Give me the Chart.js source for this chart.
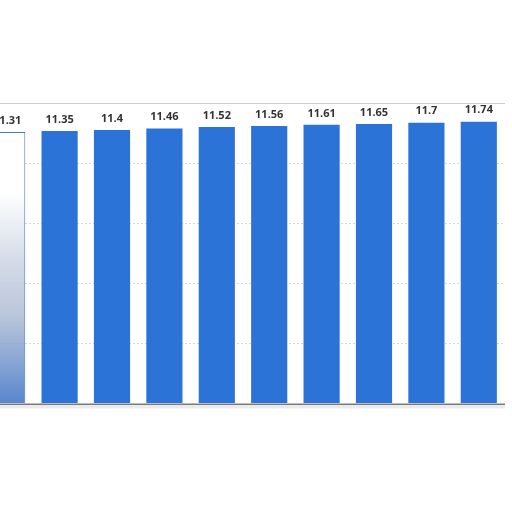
<!DOCTYPE html>
<html>
<head>
<meta charset="utf-8">
<script src="https://cdn.jsdelivr.net/npm/chart.js@4/dist/chart.umd.min.js"></script>
<style>
  html, body { margin: 0; padding: 0; background: #ffffff; overflow: hidden; width: 512px; height: 512px; }
  #wrap { position: absolute; left: -18.6px; top: 100px; width: 524px; height: 310px; }
</style>
</head>
<body>
<div id="wrap"><canvas id="barChart" width="524" height="310"></canvas></div>
<script>
const years = ["2020", "2021", "2022", "2023", "2024", "2025", "2026", "2027", "2028", "2029"];
const values = [11.31, 11.35, 11.4, 11.46, 11.52, 11.56, 11.61, 11.65, 11.7, 11.74];
const yTicks = [0, 2.5, 5, 7.5, 10, 12.5];

const barBlue = '#2b73d6';
const labelColor = '#333333';

const barChartCanvas = document.getElementById("barChart");

// first bar is faded out in the screenshot, white at the top going blue-grey at the base
function barFill(ctx) {
    if (ctx.dataIndex !== 0) return barBlue;
    const area = ctx.chart.chartArea;
    if (!area) return '#ffffff';
    const g = ctx.chart.ctx.createLinearGradient(0, area.top, 0, area.bottom);
    g.addColorStop(0, '#ffffff');
    g.addColorStop(0.3, '#ffffff');
    g.addColorStop(0.7, 'rgba(170,185,210,0.8)');
    g.addColorStop(1, 'rgba(70,120,200,0.9)');
    return g;
}

const valueLabels = {
    id: 'valueLabels',
    afterDatasetsDraw(chart) {
        const ctx = chart.ctx;
        const meta = chart.getDatasetMeta(0);
        ctx.save();
        ctx.font = 'bold 11px "Open Sans", Roboto, sans-serif';
        ctx.fillStyle = labelColor;
        ctx.textAlign = 'center';
        ctx.textBaseline = 'middle';
        meta.data.forEach((bar, i) => {
            ctx.fillText(String(values[i]), bar.x, bar.y - 11.5);
        });

        // dark base line with a soft shadow
        const y0 = chart.scales.y.getPixelForValue(0);
        const area = chart.chartArea;
        ctx.fillStyle = 'rgba(0,0,0,0.08)';
        ctx.fillRect(area.left, y0 + 1, area.right - area.left, 4);
        ctx.fillStyle = '#7a7a7a';
        ctx.fillRect(area.left, y0, area.right - area.left, 1.5);
        ctx.restore();
    }
};

const barChart = new Chart(barChartCanvas, {
    type: 'bar',
    data: {
        labels: years,
        datasets: [{
            data: values,
            backgroundColor: barFill,
            borderColor: ctx => ctx.dataIndex === 0 ? '#4a7cc6' : barBlue,
            borderWidth: ctx => ctx.dataIndex === 0 ? { top: 1, right: 1, left: 1, bottom: 0 } : 0,
            borderSkipped: false,
            categoryPercentage: 1,
            barPercentage: 0.69
        }]
    },
    options: {
        responsive: false,
        animation: false,
        layout: { padding: { top: 3.5, bottom: 6.5, left: 0, right: 0 } },
        plugins: {
            legend: { display: false },
            tooltip: { enabled: false }
        },
        scales: {
            x: {
                display: false
            },
            y: {
                min: yTicks[0],
                max: yTicks[yTicks.length - 1],
                afterBuildTicks: scale => {
                    scale.ticks = yTicks.map(v => ({ value: v }));
                },
                ticks: { display: false },
                grid: {
                    drawTicks: false,
                    color: ctx => ctx.tick.value === 12.5 ? '#cccccc' : (ctx.tick.value === 0 ? 'rgba(0,0,0,0)' : '#d6d6d6'),
                    lineWidth: 1
                },
                border: {
                    display: false,
                    dash: ctx => (ctx.tick && ctx.tick.value > 0 && ctx.tick.value < 12.5) ? [2, 2] : []
                }
            }
        }
    },
    plugins: [valueLabels]
});
</script>
</body>
</html>
